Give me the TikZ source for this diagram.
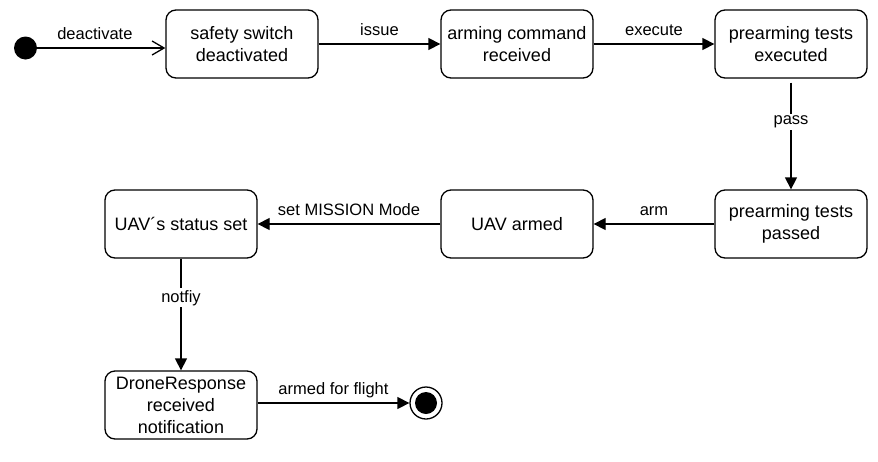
\documentclass[tikz,border=0pt]{standalone}
\usepackage{fontspec}
\setmainfont{Liberation Sans}
\usepackage{tikz}
\usetikzlibrary{shapes.geometric, arrows.meta, positioning}

\begin{document}
\begin{tikzpicture}[x=1pt, y=-1pt]
		\tikzset{
			state/.style={rectangle, draw, solid, black, line width=1.3pt, fill=white, align=center,
			font=\fontsize{18}{22}\selectfont, minimum width=152pt, minimum height=68pt, rounded corners=10pt},
			lbl/.style={font=\fontsize{16.5}{20}\selectfont, inner sep=0pt, text depth=0pt},
			onlbl/.style={font=\fontsize{16.5}{20}\selectfont, fill=white, inner sep=2pt},
			trans/.style={-{Triangle[length=12pt, width=12pt]}, line width=1.3pt}
		}
		\useasboundingbox (0,0) rectangle (878,461);

		\node[circle, fill=black, minimum size=23pt, inner sep=0pt](init) at (25.5,48){};
		\node[state](safety) at (242,44){safety switch\\deactivated};
		\node[state, right=121.7pt of safety](arming){arming command\\received};
		\node[state, right=120.7pt of arming](executed){prearming tests\\executed};
		\node[state, below=110.7pt of executed](passed){prearming tests\\passed};
		\node[state, left=120.7pt of passed](armed){UAV armed};
		\node[state, left=182.7pt of armed](status){UAV´s status set};
		\node[state, below=111.7pt of status](notification){DroneResponse\\received\\notification};
		\node[circle, draw, line width=1.3pt, minimum size=32pt, inner sep=0pt](final) at (426,403){};
		\node[circle, fill=black, minimum size=22pt, inner sep=0pt](finaldot) at (final){};

		\draw[-{Straight Barb[length=12pt, width=14pt]}, line width=1.3pt](init) -- node[lbl, above=8pt, pos=0.45]{deactivate} (init -| safety.west);
		\draw[trans](safety) -- node[lbl, above=8pt]{issue} (arming);
		\draw[trans](arming) -- node[lbl, above=8pt]{execute} (executed);
		\draw[trans, shorten <=4pt](executed) -- node[onlbl, pos=0.39]{pass} (passed);
		\draw[trans](passed) -- node[lbl, above=8pt]{arm} (armed);
		\draw[trans](armed) -- node[lbl, above=8pt]{set MISSION Mode} (status);
		\draw[trans](status) -- node[onlbl, pos=0.35]{notfiy} (notification);
		\draw[trans](notification.east |- final) -- node[lbl, above=8pt]{armed for flight} (final);

\end{tikzpicture}
\end{document}
